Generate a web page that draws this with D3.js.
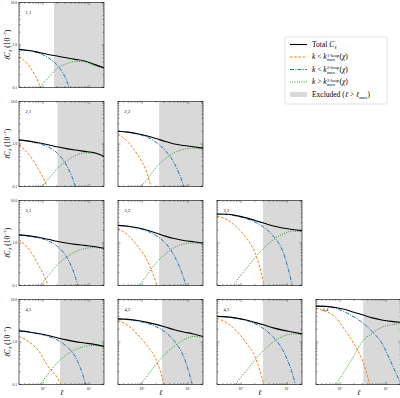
<!DOCTYPE html>
<html>
<head>
<meta charset="utf-8">
<script src="https://cdn.jsdelivr.net/npm/d3@7"></script>
<style>
  body { margin: 0; background: #fff; }
  svg { display: block; }
  text { font-family: 'Liberation Serif', 'DejaVu Serif', serif; white-space: pre; }
</style>
</head>
<body>
<div class="graph"></div>
<script>
// multipoles sampled at these ell values
var ells = [30, 50, 80, 130, 200, 320, 500, 800, 1300, 2100];

var panelLabels = ['1,1', '2,1', '2,2', '3,1', '3,2', '3,3', '4,1', '4,2', '4,3', '4,4'];
var panelRows   = [0, 1, 1, 2, 2, 2, 3, 3, 3, 3];
var panelCols   = [0, 0, 1, 0, 1, 2, 0, 1, 2, 3];
var ellMax      = [173, 205, 234, 212, 234, 300, 234, 272, 300, 318];

// ell C_ell in units of 1e-7
var totalCl = [
  [0.79, 0.74, 0.67, 0.60, 0.55, 0.50, 0.46, 0.42, 0.35, 0.29],
  [1.25, 1.17, 1.07, 0.96, 0.86, 0.78, 0.72, 0.67, 0.62, 0.51],
  [2.0, 1.9, 1.75, 1.55, 1.35, 1.15, 1.0, 0.92, 0.86, 0.80],
  [1.55, 1.47, 1.36, 1.22, 1.10, 1.0, 0.93, 0.88, 0.83, 0.75],
  [2.6, 2.48, 2.28, 2.0, 1.72, 1.45, 1.27, 1.15, 1.07, 1.0],
  [4.8, 4.75, 4.4, 3.9, 3.4, 2.9, 2.5, 2.25, 2.07, 1.96],
  [1.83, 1.72, 1.58, 1.42, 1.26, 1.12, 1.02, 0.95, 0.88, 0.79],
  [3.5, 3.4, 3.2, 2.9, 2.6, 2.25, 1.95, 1.72, 1.55, 1.35],
  [4.0, 3.9, 3.65, 3.3, 2.9, 2.5, 2.15, 1.9, 1.72, 1.55],
  [7.0, 6.9, 6.5, 5.8, 5.0, 4.3, 3.7, 3.3, 3.05, 2.9]
];
var oneLoopCl = [
  [0.53, 0.32, 0.13, 0.03, null, null, null, null, null, null],
  [0.96, 0.55, 0.25, 0.08, 0.01, null, null, null, null, null],
  [1.7, 1.1, 0.55, 0.2, 0.03, null, null, null, null, null],
  [1.2, 0.7, 0.3, 0.09, 0.01, null, null, null, null, null],
  [2.2, 1.5, 0.85, 0.38, 0.12, 0.02, null, null, null, null],
  [4.3, 3.5, 2.4, 1.3, 0.6, 0.1, 0.01, null, null, null],
  [1.35, 1.0, 0.62, 0.26, 0.15, 0.05, null, null, null, null],
  [3.2, 2.4, 1.5, 0.8, 0.4, 0.08, null, null, null, null],
  [3.6, 2.8, 1.8, 0.95, 0.45, 0.09, 0.01, null, null, null],
  [6.2, 5.2, 3.8, 1.85, 0.9, 0.32, 0.06, null, null, null]
];
var twoLoopCl = [
  [0.78, 0.73, 0.65, 0.50, 0.34, 0.15, 0.03, null, null, null],
  [1.24, 1.15, 1.03, 0.85, 0.62, 0.32, 0.1, 0.01, null, null],
  [2.0, 1.88, 1.7, 1.45, 1.1, 0.7, 0.35, 0.1, 0.01, null],
  [1.54, 1.45, 1.32, 1.12, 0.85, 0.48, 0.16, 0.02, null, null],
  [2.58, 2.45, 2.22, 1.9, 1.5, 1.0, 0.5, 0.15, 0.02, null],
  [4.78, 4.7, 4.3, 3.75, 3.1, 2.3, 1.45, 0.65, 0.1, null],
  [1.82, 1.7, 1.55, 1.36, 1.12, 0.8, 0.45, 0.12, 0.01, null],
  [3.48, 3.35, 3.1, 2.75, 2.3, 1.7, 1.05, 0.45, 0.08, null],
  [3.98, 3.87, 3.6, 3.2, 2.7, 2.0, 1.3, 0.65, 0.18, 0.02],
  [6.98, 6.85, 6.2, 5.0, 3.9, 2.75, 1.75, 0.95, 0.32, 0.1]
];
var beyondCl = [
  [null, null, 0.095, 0.17, 0.28, 0.36, 0.41, 0.40, 0.33, 0.28],
  [null, null, 0.08, 0.15, 0.26, 0.40, 0.53, 0.62, 0.60, 0.50],
  [null, null, 0.08, 0.15, 0.28, 0.45, 0.62, 0.75, 0.80, 0.76],
  [null, null, 0.09, 0.17, 0.30, 0.46, 0.62, 0.74, 0.78, 0.72],
  [null, null, 0.09, 0.18, 0.34, 0.55, 0.78, 0.95, 1.0, 0.93],
  [null, 0.05, 0.13, 0.25, 0.45, 0.78, 1.2, 1.62, 1.9, 1.85],
  [null, null, 0.09, 0.18, 0.32, 0.50, 0.66, 0.79, 0.83, 0.76],
  [null, null, 0.085, 0.16, 0.30, 0.52, 0.80, 1.12, 1.35, 1.28],
  [null, 0.05, 0.11, 0.21, 0.38, 0.66, 1.0, 1.35, 1.55, 1.5],
  [null, null, 0.1, 0.22, 0.48, 1.1, 1.6, 2.2, 2.55, 2.7]
];

var yTickValues = [0.1, 1, 10];
var yTickLabels = ['0.1', '1.0', '10.0'];
var xTickValues = [100, 1000];
var xTickExponents = ['2', '3'];

var width = 400,
    height = 398,
    left0 = 19,
    top0 = 2.5,
    pitch = 99,
    size = 85;

var colors = { total: '#000000', one: '#ff7f0e', two: '#1f77b4', beyond: '#2ca02c', excl: '#d9d9d9' };

var svg = d3.select('.graph')
  .append('svg')
  .attr('width', width)
  .attr('height', height);

var xScale = d3.scaleLog().domain([30, 2100]).range([0, size]);
var yScale = d3.scaleLog().domain([0.1, 10]).range([size, 0]);

var xMinor = [30, 40, 50, 60, 70, 80, 90, 200, 300, 400, 500, 600, 700, 800, 900, 2000];
var yMinor = [0.2, 0.3, 0.4, 0.5, 0.6, 0.7, 0.8, 0.9, 2, 3, 4, 5, 6, 7, 8, 9];

var line = d3.line()
  .defined(function (d) { return d[1] != null; })
  .x(function (d) { return xScale(d[0]); })
  .y(function (d) { return yScale(d[1]); })
  .curve(d3.curveMonotoneX);

function pairs(vals) {
  return ells.map(function (l, k) { return [l, vals[k]]; });
}

// writes pieces of a formula one after another, measuring each
function mathText(parent, x, y, size, parts, anchor) {
  var g = parent.append('g');
  var cx = 0;
  parts.forEach(function (pt) {
    if (pt.t != null) {
      var t = g.append('text').attr('x', cx).attr('y', 0)
        .style('font-size', size + 'px')
        .style('font-style', pt.i ? 'italic' : 'normal')
        .text(pt.t);
      cx += t.node().getComputedTextLength();
    } else {
      var small = size * 0.62;
      var w = 0;
      if (pt.sup != null) {
        var s = g.append('text').attr('x', cx + 0.3).attr('y', -size * 0.38)
          .style('font-size', small + 'px').text(pt.sup);
        w = Math.max(w, s.node().getComputedTextLength());
      }
      if (pt.sub != null) {
        var b = g.append('text').attr('x', cx + 0.3).attr('y', size * 0.22)
          .style('font-size', small + 'px')
          .style('font-style', pt.subItalic ? 'italic' : 'normal')
          .text(pt.sub);
        w = Math.max(w, b.node().getComputedTextLength());
      }
      cx += w + 0.6;
    }
  });
  var shift = anchor === 'middle' ? -cx / 2 : 0;
  g.attr('transform', 'translate(' + (x + shift) + ',' + y + ')');
  return g;
}

panelLabels.forEach(function (lab, p) {
  var row = panelRows[p], col = panelCols[p];
  var g = svg.append('g')
    .attr('transform', 'translate(' + (left0 + col * pitch) + ',' + (top0 + row * pitch) + ')');

  g.append('clipPath').attr('id', 'clip' + p)
    .append('rect').attr('width', size).attr('height', size);

  g.append('rect')
    .attr('x', xScale(ellMax[p]))
    .attr('width', size - xScale(ellMax[p]))
    .attr('height', size)
    .style('fill', colors.excl);

  g.append('text')
    .attr('x', 6.5)
    .attr('y', 11)
    .style('font-size', '4.5px')
    .text(lab);

  var plot = g.append('g').attr('clip-path', 'url(#clip' + p + ')');

  plot.append('path').datum(pairs(oneLoopCl[p])).attr('d', line)
    .style('fill', 'none').style('stroke', colors.one).style('stroke-width', 1)
    .style('stroke-dasharray', '2.6,1.6');
  plot.append('path').datum(pairs(twoLoopCl[p])).attr('d', line)
    .style('fill', 'none').style('stroke', colors.two).style('stroke-width', 1)
    .style('stroke-dasharray', '4,1.3,1,1.3');
  plot.append('path').datum(pairs(beyondCl[p])).attr('d', line)
    .style('fill', 'none').style('stroke', colors.beyond).style('stroke-width', 1)
    .style('stroke-dasharray', '1,1.3');
  plot.append('path').datum(pairs(totalCl[p])).attr('d', line)
    .style('fill', 'none').style('stroke', colors.total).style('stroke-width', 1.1);

  // inward ticks on all four sides
  var ticks = g.append('g').style('stroke', '#000').style('stroke-width', 0.4);
  function tickX(v, len) {
    ticks.append('line').attr('x1', xScale(v)).attr('x2', xScale(v)).attr('y1', size).attr('y2', size - len);
    ticks.append('line').attr('x1', xScale(v)).attr('x2', xScale(v)).attr('y1', 0).attr('y2', len);
  }
  function tickY(v, len) {
    ticks.append('line').attr('y1', yScale(v)).attr('y2', yScale(v)).attr('x1', 0).attr('x2', len);
    ticks.append('line').attr('y1', yScale(v)).attr('y2', yScale(v)).attr('x1', size).attr('x2', size - len);
  }
  xTickValues.forEach(function (v) { tickX(v, 2.5); });
  xMinor.forEach(function (v) { tickX(v, 1.4); });
  yTickValues.forEach(function (v) { tickY(v, 2.5); });
  yMinor.forEach(function (v) { tickY(v, 1.4); });

  g.append('rect').attr('width', size).attr('height', size)
    .style('fill', 'none').style('stroke', '#000').style('stroke-width', 0.6);

  if (col === 0) {
    yTickValues.forEach(function (v, k) {
      g.append('text')
        .attr('x', -2)
        .attr('y', yScale(v) + 1.2)
        .attr('text-anchor', 'end')
        .style('font-size', '3.6px')
        .text(yTickLabels[k]);
    });
    var yl = g.append('g').attr('transform', 'translate(-9,' + (size / 2) + ') rotate(-90)');
    mathText(yl, 0, 0, 7.5, [
      { t: 'ℓC', i: true }, { sub: 'ℓ', subItalic: true }, { t: ' (10' }, { sup: '−7' }, { t: ')' }
    ], 'middle');
  }
  if (row === 3) {
    xTickValues.forEach(function (v, k) {
      mathText(g, xScale(v), size + 5, 3.6, [{ t: '10' }, { sup: xTickExponents[k] }], 'middle');
    });
    g.append('text')
      .attr('x', size / 2)
      .attr('y', size + 10.5)
      .attr('text-anchor', 'middle')
      .style('font-size', '7.5px')
      .style('font-style', 'italic')
      .text('ℓ');
  }
});

// legend
var legend = svg.append('g');
legend.append('rect')
  .attr('x', 285).attr('y', 37).attr('width', 102).attr('height', 67)
  .attr('rx', 1.5)
  .style('fill', '#fff').style('stroke', '#cccccc').style('stroke-width', 0.6);

var legendStyles = [
  { color: colors.total, dash: null, w: 1.1 },
  { color: colors.one, dash: '2.6,1.6', w: 1 },
  { color: colors.two, dash: '4,1.3,1,1.3', w: 1 },
  { color: colors.beyond, dash: '1,1.3', w: 1 },
  { color: colors.excl, patch: true }
];
var legendParts = [
  [{ t: 'Total ' }, { t: 'C', i: true }, { sub: 'ℓ', subItalic: true }],
  [{ t: 'k', i: true }, { t: ' < ' }, { t: 'k', i: true }, { sup: '1-loop', sub: 'max' }, { t: '(' }, { t: 'χ', i: true }, { t: ')' }],
  [{ t: 'k', i: true }, { t: ' < ' }, { t: 'k', i: true }, { sup: '2-loop', sub: 'max' }, { t: '(' }, { t: 'χ', i: true }, { t: ')' }],
  [{ t: 'k', i: true }, { t: ' > ' }, { t: 'k', i: true }, { sup: '2-loop', sub: 'max' }, { t: '(' }, { t: 'χ', i: true }, { t: ')' }],
  [{ t: 'Excluded (' }, { t: 'ℓ', i: true }, { t: ' > ' }, { t: 'ℓ', i: true }, { sub: 'max' }, { t: ')' }]
];

legendParts.forEach(function (parts, k) {
  var cy = 44.5 + k * 12.5;
  var st = legendStyles[k];
  if (st.patch) {
    legend.append('rect').attr('x', 290).attr('y', cy - 2.5).attr('width', 17).attr('height', 5)
      .style('fill', st.color);
  } else {
    legend.append('line').attr('x1', 290).attr('x2', 307).attr('y1', cy).attr('y2', cy)
      .style('stroke', st.color).style('stroke-width', st.w)
      .style('stroke-dasharray', st.dash);
  }
  mathText(legend, 312, cy + 2.4, 7.5, parts, 'start');
});
</script>
</body>
</html>
